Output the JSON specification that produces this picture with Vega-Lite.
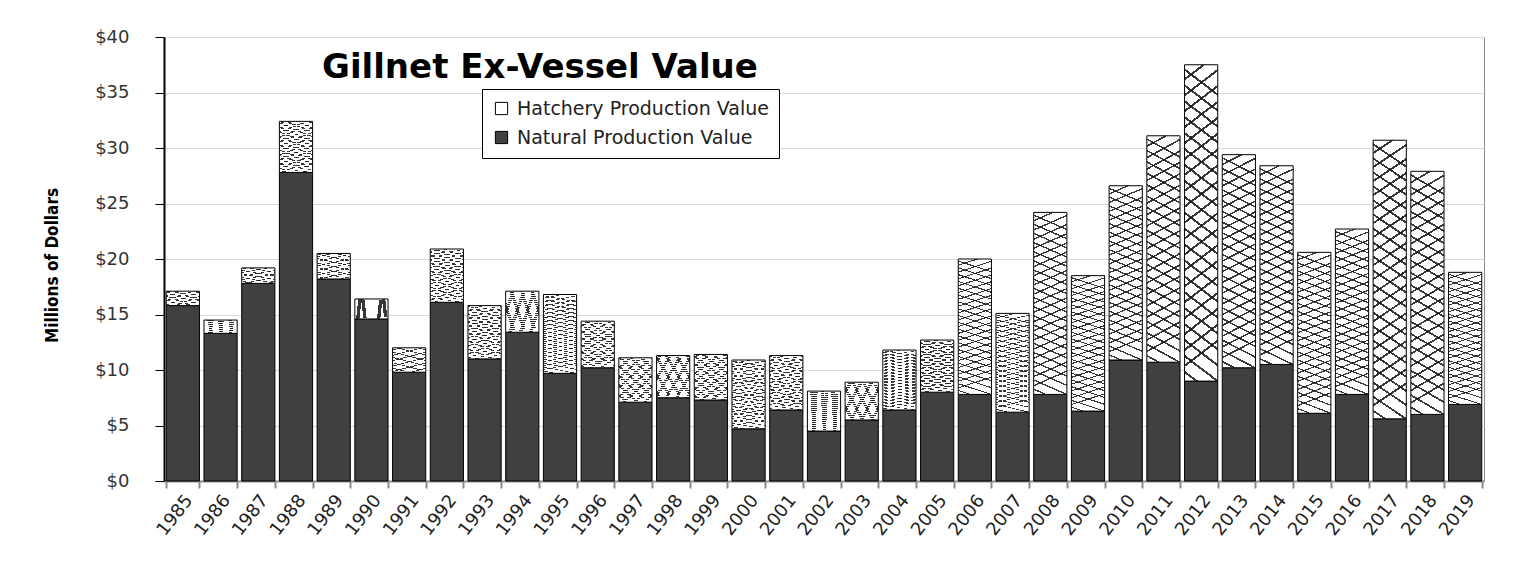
{
  "$schema": "https://vega.github.io/schema/vega-lite/v6.json",
  "width": 1320,
  "height": 444,
  "autosize": {"type": "none"},
  "padding": {"left": 164, "top": 37, "right": 52, "bottom": 81},
  "background": "white",
  "config": {
    "view": {"stroke": "#8a8a8a", "strokeWidth": 1},
    "axis": {"labelFont": "DejaVu Sans", "titleFont": "DejaVu Sans"}
  },
  "title": {
    "text": "Gillnet Ex-Vessel Value",
    "anchor": "start",
    "frame": "group",
    "offset": -43,
    "baseline": "alphabetic",
    "dx": 158,
    "dy": 41,
    "font": "DejaVu Sans",
    "fontSize": 34,
    "fontWeight": "bold",
    "color": "black"
  },
  "data": {
    "values": [
      {"year": "1985", "natural": 15.8, "total": 17.1},
      {"year": "1986", "natural": 13.3, "total": 14.5},
      {"year": "1987", "natural": 17.8, "total": 19.2},
      {"year": "1988", "natural": 27.8, "total": 32.4},
      {"year": "1989", "natural": 18.2, "total": 20.5},
      {"year": "1990", "natural": 14.6, "total": 16.4},
      {"year": "1991", "natural": 9.8, "total": 12.0},
      {"year": "1992", "natural": 16.1, "total": 20.9},
      {"year": "1993", "natural": 11.0, "total": 15.8},
      {"year": "1994", "natural": 13.4, "total": 17.1},
      {"year": "1995", "natural": 9.7, "total": 16.8},
      {"year": "1996", "natural": 10.2, "total": 14.4},
      {"year": "1997", "natural": 7.1, "total": 11.1},
      {"year": "1998", "natural": 7.5, "total": 11.3},
      {"year": "1999", "natural": 7.3, "total": 11.4},
      {"year": "2000", "natural": 4.7, "total": 10.9},
      {"year": "2001", "natural": 6.4, "total": 11.3},
      {"year": "2002", "natural": 4.5, "total": 8.1},
      {"year": "2003", "natural": 5.5, "total": 8.9},
      {"year": "2004", "natural": 6.4, "total": 11.8},
      {"year": "2005", "natural": 8.0, "total": 12.7},
      {"year": "2006", "natural": 7.8, "total": 20.0},
      {"year": "2007", "natural": 6.2, "total": 15.1},
      {"year": "2008", "natural": 7.8, "total": 24.2},
      {"year": "2009", "natural": 6.3, "total": 18.5},
      {"year": "2010", "natural": 10.9, "total": 26.6},
      {"year": "2011", "natural": 10.7, "total": 31.1},
      {"year": "2012", "natural": 9.0, "total": 37.5},
      {"year": "2013", "natural": 10.2, "total": 29.4},
      {"year": "2014", "natural": 10.5, "total": 28.4},
      {"year": "2015", "natural": 6.1, "total": 20.6},
      {"year": "2016", "natural": 7.8, "total": 22.7},
      {"year": "2017", "natural": 5.6, "total": 30.7},
      {"year": "2018", "natural": 6.0, "total": 27.9},
      {"year": "2019", "natural": 6.9, "total": 18.8}
    ]
  },
  "encoding": {
    "x": {
      "field": "year",
      "type": "ordinal",
      "scale": {"paddingInner": 0.12, "paddingOuter": 0.06},
      "axis": {
        "title": null,
        "labelAngle": -52,
        "labelAlign": "right",
        "labelBaseline": "middle",
        "labelFont": "DejaVu Sans",
        "labelFontSize": 18,
        "labelColor": "#222222",
        "labelPadding": 9,
        "labelOffset": 6,
        "tickBand": "extent",
        "tickColor": "#8c8c8c",
        "tickWidth": 2,
        "tickSize": 7,
        "domainColor": "#8c8c8c",
        "domainWidth": 2,
        "grid": false
      }
    }
  },
  "layer": [
    {
      "mark": {"type": "bar", "stroke": "black", "strokeWidth": 1},
      "encoding": {
        "y": {
          "field": "natural",
          "type": "quantitative",
          "scale": {"domain": [0, 40], "nice": false},
          "axis": {
            "values": [0, 5, 10, 15, 20, 25, 30, 35, 40],
            "labelExpr": "'$' + datum.value",
            "labelFont": "DejaVu Sans",
            "labelFontSize": 18,
            "labelColor": "#333333",
            "labelPadding": 26,
            "tickSize": 9,
            "tickColor": "black",
            "tickWidth": 1,
            "domainColor": "black",
            "domainWidth": 2,
            "gridColor": "#d9d9d9",
            "gridWidth": 1,
            "title": "Millions of Dollars",
            "titleFont": "Liberation Sans Narrow, DejaVu Sans Condensed, Liberation Sans",
            "titleFontSize": 17,
            "titleFontWeight": "bold",
            "titleColor": "black",
            "titleAngle": -90,
            "titleX": -112,
            "titleY": 228,
            "titleAlign": "center",
            "titleBaseline": "middle"
          }
        },
        "color": {
          "datum": "Natural Production Value",
          "scale": {
            "domain": ["Hatchery Production Value", "Natural Production Value"],
            "range": ["white", "#404040"]
          },
          "legend": {
            "title": null,
            "orient": "none",
            "legendX": 318,
            "legendY": 52,
            "direction": "vertical",
            "fillColor": "white",
            "strokeColor": "black",
            "padding": 10,
            "symbolType": "square",
            "symbolSize": 150,
            "symbolStrokeColor": "black",
            "symbolStrokeWidth": 1,
            "labelFont": "DejaVu Sans",
            "labelFontSize": 19,
            "labelColor": "#222222",
            "labelOffset": 6,
            "rowPadding": 9,
            "labelLimit": 500
          }
        }
      }
    },
    {
      "mark": {"type": "bar", "stroke": "black", "strokeWidth": 1},
      "encoding": {
        "y": {"field": "natural", "type": "quantitative"},
        "y2": {"field": "total"},
        "color": {"datum": "Hatchery Production Value"}
      }
    },
    {
      "mark": {
        "type": "bar",
        "strokeWidth": 0,
        "fill": {
          "gradient": "linear",
          "x1": 0, "y1": 0, "x2": 0.08, "y2": 1,
          "stops": [
            {"offset": 0.000, "color": "rgba(0,0,0,0)"}, {"offset": 0.042, "color": "rgba(0,0,0,0)"}, {"offset": 0.042, "color": "rgba(20,20,20,0.85)"}, {"offset": 0.050, "color": "rgba(20,20,20,0.85)"},
            {"offset": 0.050, "color": "rgba(0,0,0,0)"}, {"offset": 0.092, "color": "rgba(0,0,0,0)"}, {"offset": 0.092, "color": "rgba(20,20,20,0.85)"}, {"offset": 0.100, "color": "rgba(20,20,20,0.85)"},
            {"offset": 0.100, "color": "rgba(0,0,0,0)"}, {"offset": 0.142, "color": "rgba(0,0,0,0)"}, {"offset": 0.142, "color": "rgba(20,20,20,0.85)"}, {"offset": 0.150, "color": "rgba(20,20,20,0.85)"},
            {"offset": 0.150, "color": "rgba(0,0,0,0)"}, {"offset": 0.192, "color": "rgba(0,0,0,0)"}, {"offset": 0.192, "color": "rgba(20,20,20,0.85)"}, {"offset": 0.200, "color": "rgba(20,20,20,0.85)"},
            {"offset": 0.200, "color": "rgba(0,0,0,0)"}, {"offset": 0.242, "color": "rgba(0,0,0,0)"}, {"offset": 0.242, "color": "rgba(20,20,20,0.85)"}, {"offset": 0.250, "color": "rgba(20,20,20,0.85)"},
            {"offset": 0.250, "color": "rgba(0,0,0,0)"}, {"offset": 0.292, "color": "rgba(0,0,0,0)"}, {"offset": 0.292, "color": "rgba(20,20,20,0.85)"}, {"offset": 0.300, "color": "rgba(20,20,20,0.85)"},
            {"offset": 0.300, "color": "rgba(0,0,0,0)"}, {"offset": 0.342, "color": "rgba(0,0,0,0)"}, {"offset": 0.342, "color": "rgba(20,20,20,0.85)"}, {"offset": 0.350, "color": "rgba(20,20,20,0.85)"},
            {"offset": 0.350, "color": "rgba(0,0,0,0)"}, {"offset": 0.392, "color": "rgba(0,0,0,0)"}, {"offset": 0.392, "color": "rgba(20,20,20,0.85)"}, {"offset": 0.400, "color": "rgba(20,20,20,0.85)"},
            {"offset": 0.400, "color": "rgba(0,0,0,0)"}, {"offset": 0.442, "color": "rgba(0,0,0,0)"}, {"offset": 0.442, "color": "rgba(20,20,20,0.85)"}, {"offset": 0.450, "color": "rgba(20,20,20,0.85)"},
            {"offset": 0.450, "color": "rgba(0,0,0,0)"}, {"offset": 0.492, "color": "rgba(0,0,0,0)"}, {"offset": 0.492, "color": "rgba(20,20,20,0.85)"}, {"offset": 0.500, "color": "rgba(20,20,20,0.85)"},
            {"offset": 0.500, "color": "rgba(0,0,0,0)"}, {"offset": 0.542, "color": "rgba(0,0,0,0)"}, {"offset": 0.542, "color": "rgba(20,20,20,0.85)"}, {"offset": 0.550, "color": "rgba(20,20,20,0.85)"},
            {"offset": 0.550, "color": "rgba(0,0,0,0)"}, {"offset": 0.592, "color": "rgba(0,0,0,0)"}, {"offset": 0.592, "color": "rgba(20,20,20,0.85)"}, {"offset": 0.600, "color": "rgba(20,20,20,0.85)"},
            {"offset": 0.600, "color": "rgba(0,0,0,0)"}, {"offset": 0.642, "color": "rgba(0,0,0,0)"}, {"offset": 0.642, "color": "rgba(20,20,20,0.85)"}, {"offset": 0.650, "color": "rgba(20,20,20,0.85)"},
            {"offset": 0.650, "color": "rgba(0,0,0,0)"}, {"offset": 0.692, "color": "rgba(0,0,0,0)"}, {"offset": 0.692, "color": "rgba(20,20,20,0.85)"}, {"offset": 0.700, "color": "rgba(20,20,20,0.85)"},
            {"offset": 0.700, "color": "rgba(0,0,0,0)"}, {"offset": 0.742, "color": "rgba(0,0,0,0)"}, {"offset": 0.742, "color": "rgba(20,20,20,0.85)"}, {"offset": 0.750, "color": "rgba(20,20,20,0.85)"},
            {"offset": 0.750, "color": "rgba(0,0,0,0)"}, {"offset": 0.792, "color": "rgba(0,0,0,0)"}, {"offset": 0.792, "color": "rgba(20,20,20,0.85)"}, {"offset": 0.800, "color": "rgba(20,20,20,0.85)"},
            {"offset": 0.800, "color": "rgba(0,0,0,0)"}, {"offset": 0.842, "color": "rgba(0,0,0,0)"}, {"offset": 0.842, "color": "rgba(20,20,20,0.85)"}, {"offset": 0.850, "color": "rgba(20,20,20,0.85)"},
            {"offset": 0.850, "color": "rgba(0,0,0,0)"}, {"offset": 0.892, "color": "rgba(0,0,0,0)"}, {"offset": 0.892, "color": "rgba(20,20,20,0.85)"}, {"offset": 0.900, "color": "rgba(20,20,20,0.85)"},
            {"offset": 0.900, "color": "rgba(0,0,0,0)"}, {"offset": 0.942, "color": "rgba(0,0,0,0)"}, {"offset": 0.942, "color": "rgba(20,20,20,0.85)"}, {"offset": 0.950, "color": "rgba(20,20,20,0.85)"},
            {"offset": 0.950, "color": "rgba(0,0,0,0)"}, {"offset": 1.000, "color": "rgba(0,0,0,0)"}
          ]
        }
      },
      "encoding": {
        "y": {"field": "natural", "type": "quantitative"},
        "y2": {"field": "total"}
      }
    },
    {
      "mark": {
        "type": "bar",
        "strokeWidth": 0,
        "fill": {
          "gradient": "linear",
          "x1": 0.08, "y1": 0, "x2": 0, "y2": 1,
          "stops": [
            {"offset": 0.000, "color": "rgba(0,0,0,0)"}, {"offset": 0.017, "color": "rgba(0,0,0,0)"}, {"offset": 0.017, "color": "rgba(20,20,20,0.85)"}, {"offset": 0.025, "color": "rgba(20,20,20,0.85)"},
            {"offset": 0.025, "color": "rgba(0,0,0,0)"}, {"offset": 0.067, "color": "rgba(0,0,0,0)"}, {"offset": 0.067, "color": "rgba(20,20,20,0.85)"}, {"offset": 0.075, "color": "rgba(20,20,20,0.85)"},
            {"offset": 0.075, "color": "rgba(0,0,0,0)"}, {"offset": 0.117, "color": "rgba(0,0,0,0)"}, {"offset": 0.117, "color": "rgba(20,20,20,0.85)"}, {"offset": 0.125, "color": "rgba(20,20,20,0.85)"},
            {"offset": 0.125, "color": "rgba(0,0,0,0)"}, {"offset": 0.167, "color": "rgba(0,0,0,0)"}, {"offset": 0.167, "color": "rgba(20,20,20,0.85)"}, {"offset": 0.175, "color": "rgba(20,20,20,0.85)"},
            {"offset": 0.175, "color": "rgba(0,0,0,0)"}, {"offset": 0.217, "color": "rgba(0,0,0,0)"}, {"offset": 0.217, "color": "rgba(20,20,20,0.85)"}, {"offset": 0.225, "color": "rgba(20,20,20,0.85)"},
            {"offset": 0.225, "color": "rgba(0,0,0,0)"}, {"offset": 0.267, "color": "rgba(0,0,0,0)"}, {"offset": 0.267, "color": "rgba(20,20,20,0.85)"}, {"offset": 0.275, "color": "rgba(20,20,20,0.85)"},
            {"offset": 0.275, "color": "rgba(0,0,0,0)"}, {"offset": 0.317, "color": "rgba(0,0,0,0)"}, {"offset": 0.317, "color": "rgba(20,20,20,0.85)"}, {"offset": 0.325, "color": "rgba(20,20,20,0.85)"},
            {"offset": 0.325, "color": "rgba(0,0,0,0)"}, {"offset": 0.367, "color": "rgba(0,0,0,0)"}, {"offset": 0.367, "color": "rgba(20,20,20,0.85)"}, {"offset": 0.375, "color": "rgba(20,20,20,0.85)"},
            {"offset": 0.375, "color": "rgba(0,0,0,0)"}, {"offset": 0.417, "color": "rgba(0,0,0,0)"}, {"offset": 0.417, "color": "rgba(20,20,20,0.85)"}, {"offset": 0.425, "color": "rgba(20,20,20,0.85)"},
            {"offset": 0.425, "color": "rgba(0,0,0,0)"}, {"offset": 0.467, "color": "rgba(0,0,0,0)"}, {"offset": 0.467, "color": "rgba(20,20,20,0.85)"}, {"offset": 0.475, "color": "rgba(20,20,20,0.85)"},
            {"offset": 0.475, "color": "rgba(0,0,0,0)"}, {"offset": 0.517, "color": "rgba(0,0,0,0)"}, {"offset": 0.517, "color": "rgba(20,20,20,0.85)"}, {"offset": 0.525, "color": "rgba(20,20,20,0.85)"},
            {"offset": 0.525, "color": "rgba(0,0,0,0)"}, {"offset": 0.567, "color": "rgba(0,0,0,0)"}, {"offset": 0.567, "color": "rgba(20,20,20,0.85)"}, {"offset": 0.575, "color": "rgba(20,20,20,0.85)"},
            {"offset": 0.575, "color": "rgba(0,0,0,0)"}, {"offset": 0.617, "color": "rgba(0,0,0,0)"}, {"offset": 0.617, "color": "rgba(20,20,20,0.85)"}, {"offset": 0.625, "color": "rgba(20,20,20,0.85)"},
            {"offset": 0.625, "color": "rgba(0,0,0,0)"}, {"offset": 0.667, "color": "rgba(0,0,0,0)"}, {"offset": 0.667, "color": "rgba(20,20,20,0.85)"}, {"offset": 0.675, "color": "rgba(20,20,20,0.85)"},
            {"offset": 0.675, "color": "rgba(0,0,0,0)"}, {"offset": 0.717, "color": "rgba(0,0,0,0)"}, {"offset": 0.717, "color": "rgba(20,20,20,0.85)"}, {"offset": 0.725, "color": "rgba(20,20,20,0.85)"},
            {"offset": 0.725, "color": "rgba(0,0,0,0)"}, {"offset": 0.767, "color": "rgba(0,0,0,0)"}, {"offset": 0.767, "color": "rgba(20,20,20,0.85)"}, {"offset": 0.775, "color": "rgba(20,20,20,0.85)"},
            {"offset": 0.775, "color": "rgba(0,0,0,0)"}, {"offset": 0.817, "color": "rgba(0,0,0,0)"}, {"offset": 0.817, "color": "rgba(20,20,20,0.85)"}, {"offset": 0.825, "color": "rgba(20,20,20,0.85)"},
            {"offset": 0.825, "color": "rgba(0,0,0,0)"}, {"offset": 0.867, "color": "rgba(0,0,0,0)"}, {"offset": 0.867, "color": "rgba(20,20,20,0.85)"}, {"offset": 0.875, "color": "rgba(20,20,20,0.85)"},
            {"offset": 0.875, "color": "rgba(0,0,0,0)"}, {"offset": 0.917, "color": "rgba(0,0,0,0)"}, {"offset": 0.917, "color": "rgba(20,20,20,0.85)"}, {"offset": 0.925, "color": "rgba(20,20,20,0.85)"},
            {"offset": 0.925, "color": "rgba(0,0,0,0)"}, {"offset": 0.967, "color": "rgba(0,0,0,0)"}, {"offset": 0.967, "color": "rgba(20,20,20,0.85)"}, {"offset": 0.975, "color": "rgba(20,20,20,0.85)"},
            {"offset": 0.975, "color": "rgba(0,0,0,0)"}, {"offset": 1.000, "color": "rgba(0,0,0,0)"}
          ]
        }
      },
      "encoding": {
        "y": {"field": "natural", "type": "quantitative"},
        "y2": {"field": "total"}
      }
    }
  ]
}
